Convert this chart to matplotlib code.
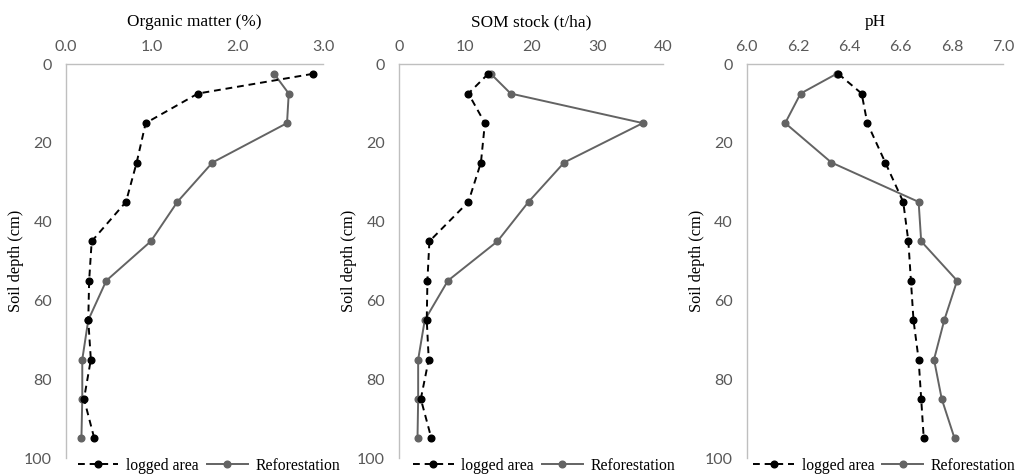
import matplotlib
matplotlib.use("Agg")
import matplotlib.pyplot as plt
from matplotlib.lines import Line2D

depth = [2.5, 7.5, 15, 25, 35, 45, 55, 65, 75, 85, 95]

om_logged = [2.88, 1.54, 0.93, 0.825, 0.70, 0.30, 0.27, 0.26, 0.29, 0.21, 0.33]
om_refor = [2.43, 2.60, 2.58, 1.71, 1.30, 0.99, 0.47, 0.26, 0.19, 0.19, 0.18]

som_logged = [13.5, 10.5, 13.0, 12.4, 10.5, 4.6, 4.3, 4.2, 4.5, 3.3, 4.9]
som_refor = [13.9, 16.9, 36.9, 25.0, 19.6, 14.9, 7.4, 3.9, 2.9, 2.9, 2.8]

ph_logged = [6.357, 6.448, 6.47, 6.54, 6.61, 6.63, 6.64, 6.65, 6.67, 6.68, 6.69]
ph_refor = [6.35, 6.21, 6.15, 6.33, 6.67, 6.68, 6.82, 6.77, 6.73, 6.76, 6.81]

titles = ["Organic matter (%)", "SOM stock (t/ha)", "pH"]
xlims = [(0, 3.0), (0, 40), (6.0, 7.0)]
xticks = [[0.0, 1.0, 2.0, 3.0], [0, 10, 20, 30, 40], [6.0, 6.2, 6.4, 6.6, 6.8, 7.0]]
xfmt = ["{:.1f}", "{:.0f}", "{:.1f}"]
yticks = [0, 20, 40, 60, 80, 100]
logged_series = [om_logged, som_logged, ph_logged]
refor_series = [om_refor, som_refor, ph_refor]
legend_labels = ["logged area", "Reforestation"]

serif = ["Liberation Serif", "DejaVu Serif"]
sans = ["Lato", "DejaVu Sans"]
tick_color = "#595959"
spine_color = "#bfbfbf"
refor_color = "#636363"

fig = plt.figure(figsize=(10.19, 4.74), dpi=100)
W, H = 1019, 474
panels = [(66, 323), (399, 663.3), (746.7, 1003.3)]
legend_x = [0.556, 0.549, 0.537]
top_px, bot_px = 64, 458

for i, (l, r) in enumerate(panels):
    ax = fig.add_axes([l / W, 1 - bot_px / H, (r - l) / W, (bot_px - top_px) / H])
    ax.plot(logged_series[i], depth, color="black", linestyle=(0, (3.5, 2.5)), linewidth=1.4,
            marker="o", markersize=4.8, zorder=3)
    ax.plot(refor_series[i], depth, color=refor_color, linestyle="-", linewidth=1.4,
            marker="o", markersize=4.8, zorder=2)
    ax.set_xlim(*xlims[i])
    ax.set_ylim(100, 0)
    ax.xaxis.tick_top()
    ax.set_xticks(xticks[i])
    ax.set_xticklabels([xfmt[i].format(v) for v in xticks[i]], family=sans, fontsize=11.5, color=tick_color)
    ax.set_yticks(yticks)
    ax.set_yticklabels([str(v) for v in yticks], family=sans, fontsize=11.5, color=tick_color)
    ax.tick_params(length=0)
    ax.tick_params(axis="y", pad=10)
    ax.tick_params(axis="x", pad=7.5)
    for s in ["right", "bottom"]:
        ax.spines[s].set_visible(False)
    for s in ["left", "top"]:
        ax.spines[s].set_color(spine_color)
        ax.spines[s].set_linewidth(1.0)
    ax.set_title(titles[i], family=serif, fontsize=12.4, pad=27)
    ax.set_ylabel("Soil depth (cm)", family=serif, fontsize=11.8)
    ax.yaxis.set_label_coords(-42 / (r - l), 0.5)
    handles = [
        Line2D([], [], color="black", linestyle=(0, (3.5, 2.5)), linewidth=1.4, marker="o", markersize=4.8),
        Line2D([], [], color=refor_color, linestyle="-", linewidth=1.4, marker="o", markersize=4.8),
    ]
    ax.legend(handles, legend_labels, loc="center", bbox_to_anchor=(legend_x[i], -0.02),
              ncol=2, frameon=False, prop={"family": serif, "size": 11.3},
              handlelength=2.6, columnspacing=0.5, handletextpad=0.5, borderaxespad=0,
              borderpad=0)

fig.savefig("out.png", dpi=100)
